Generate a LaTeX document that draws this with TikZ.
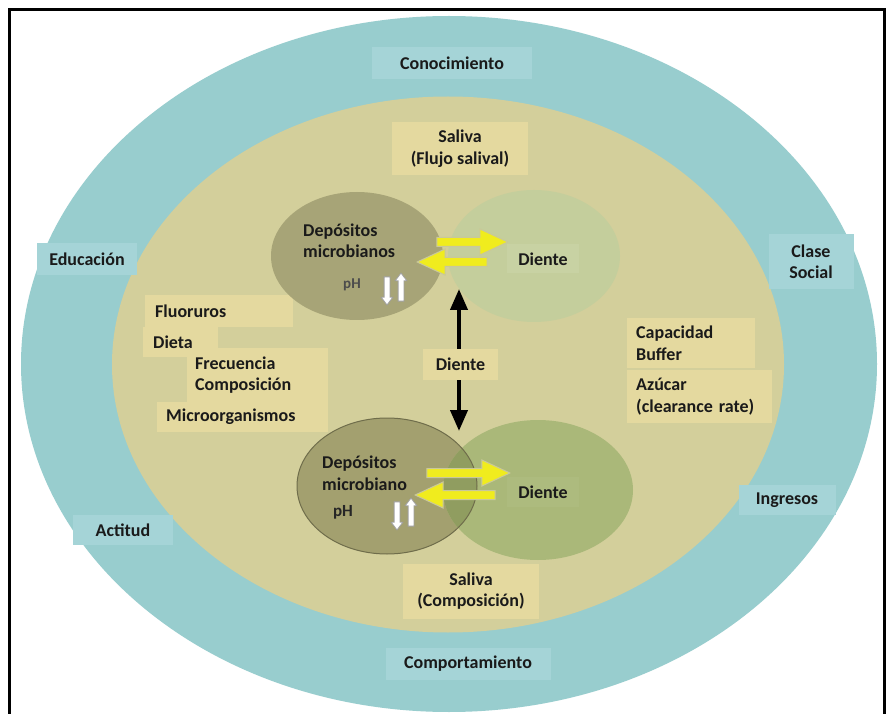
\documentclass[tikz,border=0pt]{standalone}
\usepackage{fontspec}
\setmainfont{Carlito}
\usetikzlibrary{shapes.geometric,shapes.arrows,arrows.meta}
\definecolor{tealbg}{HTML}{98CDCE}
\definecolor{tealbox}{HTML}{A5D4D7}
\definecolor{tanbg}{HTML}{D3CF9B}
\definecolor{tanbox}{HTML}{E4D99F}
\definecolor{olA}{HTML}{A7A477}
\definecolor{grA}{HTML}{C4CE9C}
\definecolor{olB}{HTML}{A3A06F}
\definecolor{olBline}{HTML}{6F6D4B}
\definecolor{grB}{HTML}{AAB879}
\definecolor{ovl}{HTML}{909D60}
\definecolor{yfill}{HTML}{F0EC1E}
\definecolor{ydraw}{HTML}{C9C89A}
\definecolor{txt}{HTML}{1A1A1A}
\definecolor{dboxA}{HTML}{C8D2A3}
\definecolor{dboxB}{HTML}{ADBB7E}
\begin{document}
\begin{tikzpicture}[x=1pt,y=-1pt,
  every node/.style={font=\bfseries\fontsize{18}{21.5}\selectfont, text=txt},
  bigell/.style={ellipse, inner sep=0pt, outer sep=0pt},
  tealbx/.style={rectangle, fill=tealbox, inner sep=0pt, align=center},
  tanbx/.style={rectangle, fill=tanbox, inner sep=0pt, align=center},
  leftbx/.style={rectangle, fill=tanbox, anchor=north west, inner ysep=0pt, align=left},
  yarrow/.style={single arrow, fill=yfill, draw=ydraw, line width=1pt,
     inner sep=4pt, single arrow head extend=8.5pt, single arrow tip angle=50},
  pharrow/.style={single arrow, fill=white, draw=gray!75, line width=0.8pt,
     inner sep=2.5pt, single arrow head extend=3pt, single arrow tip angle=75,
     minimum height=28pt},
  phtext/.style={font=\bfseries\fontsize{15}{18}\selectfont, text=black!70},
  dbox/.style={rectangle, inner sep=0pt}
]
\useasboundingbox (0,0) rectangle (887,714);
\fill[white] (0,0) rectangle (887,714);

% rings
\node[bigell, fill=tealbg, minimum width=856pt, minimum height=696pt] (outer) at (449,364) {};
\node[bigell, fill=tanbg, minimum width=672pt, minimum height=536pt] (inner) at (448,364.5) {};

% outer labels
\node[tealbx, minimum width=160pt, minimum height=32pt] (conoc) at (452,63) {Conocimiento};
\node[tealbx, minimum width=100pt, minimum height=32pt] (educ) at (87,259) {Educación};
\node[tealbx, minimum width=100pt, minimum height=30pt] (actit) at (123,530) {Actitud};
\node[tealbx, minimum width=85pt, minimum height=55pt] (clase) at (811,262) {Clase\\Social};
\node[tealbx, minimum width=97pt, minimum height=30pt] (ingr) at (787,500) {Ingresos};
\node[tealbx, minimum width=165pt, minimum height=32pt] (compor) at (468,664) {Comportamiento};

% inner labels
\node[tanbx, minimum width=136pt, minimum height=53pt] (salflujo) at (460,148.5) {Saliva\\(Flujo salival)};
\node[tanbx, minimum width=136pt, minimum height=55pt] (salcomp) at (471,591) {Saliva\\(Composición)};
\node[leftbx, inner xsep=10pt, text width=128pt, minimum height=32pt] (fluor) at (145,295) {Fluoruros};
\node[leftbx, inner xsep=10pt, text width=55pt, minimum height=30pt] (dieta) at (143,327) {Dieta};
\node[leftbx, inner xsep=8pt, text width=125pt, minimum height=54pt] (frec) at (187,348) {Frecuencia\\Composición};
\node[leftbx, inner xsep=9pt, text width=153pt, minimum height=30pt] (micro) at (157,402) {Microorganismos};
\node[leftbx, inner xsep=9pt, text width=110pt, minimum height=50pt] (capac) at (627,318) {Capacidad\\Buffer};
\node[leftbx, inner xsep=9pt, text width=127pt, minimum height=53pt] (azuc) at (627,370) {Azúcar\\(clearance rate)};

% upper pair
\node[bigell, fill=grA, minimum width=172pt, minimum height=132pt] (ur) at (534,256) {};
\node[bigell, fill=olA, minimum width=172pt, minimum height=128pt] (ul) at (357,256) {};
\node[dbox, fill=dboxA, minimum width=72pt, minimum height=29pt] (dup) at (543,259) {Diente};
\node[anchor=west, align=left, inner sep=0pt] (depup) at (303,241) {Depósitos\\microbianos};
\node[phtext, inner sep=0pt] (phup) at (352,285) {pH};
\node[pharrow, shape border rotate=270] (phupd) at (387,289) {};
\node[pharrow, shape border rotate=90] (phupu) at (401,289) {};
\node[yarrow, minimum height=71pt] (yu1) at (467.5,242) {};
\node[yarrow, minimum height=70pt, shape border rotate=180] (yu2) at (457,262) {};

% lower pair
\node[bigell, fill=olB, minimum width=180pt, minimum height=136pt] (ll) at (387,486) {};
\node[bigell, fill=grB, minimum width=190pt, minimum height=140pt] (lr) at (538,490) {};
\begin{scope}
  \clip (387,486) ellipse [x radius=90pt, y radius=68pt];
  \fill[ovl] (538,490) ellipse [x radius=95pt, y radius=70pt];
\end{scope}
\draw[olBline, line width=1pt] (387,486) ellipse [x radius=90pt, y radius=68pt];
\node[dbox, fill=dboxB, minimum width=72pt, minimum height=30pt] (dlo) at (543,492) {Diente};
\node[anchor=west, align=left, inner sep=0pt] (deplo) at (322,473) {Depósitos\\microbiano};
\node[phtext, inner sep=0pt, text=black!85, font=\bfseries\fontsize{17}{20}\selectfont] (phlo) at (343,512) {pH};
\node[pharrow, shape border rotate=270] (phlod) at (397,514) {};
\node[pharrow, shape border rotate=90] (phlou) at (411,514) {};
\node[yarrow, minimum height=83pt] (yl1) at (463.5,473) {};
\node[yarrow, minimum height=80pt, shape border rotate=180] (yl2) at (460,495) {};

% black double arrow
\coordinate (btop) at (459,289);
\coordinate (bbot) at (459,431);
\draw[line width=4pt, {Triangle[length=21pt,width=17pt]}-{Triangle[length=21pt,width=17pt]}] (bbot) -- (btop);
\node[tanbx, minimum width=75pt, minimum height=31pt] (dmid) at (460.5,364.5) {Diente};

% frame
\draw[line width=3pt, black] (9.5,716) -- (9.5,9.5) -- (884.5,9.5) -- (884.5,716);
\end{tikzpicture}
\end{document}
